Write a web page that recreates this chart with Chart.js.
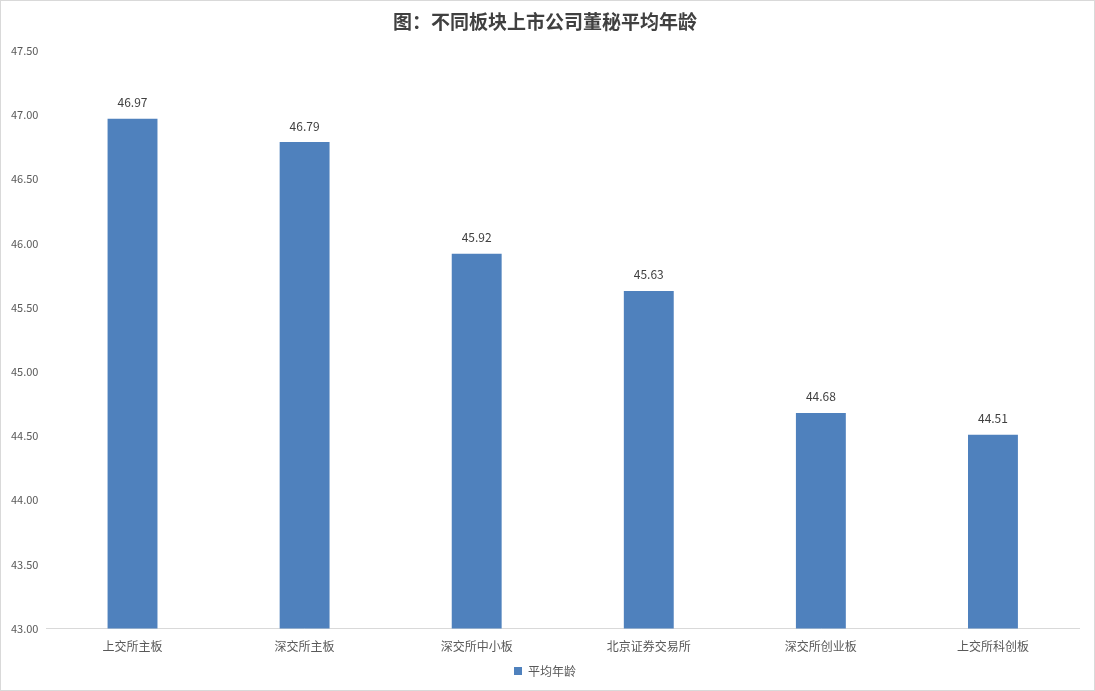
<!DOCTYPE html>
<html>
<head>
<meta charset="utf-8">
<script src="https://cdn.jsdelivr.net/npm/chart.js@4.4.1/dist/chart.umd.min.js"></script>
<style>
html,body{margin:0;padding:0;background:#fff;}
#wrap{position:absolute;left:0;top:0;width:1093px;height:689px;border:1px solid #d9d9d9;background:#fff;}
canvas{display:block;}
</style>
</head>
<body>
<div id="wrap"><canvas id="c" width="1093" height="689"></canvas></div>
<script>
const categories = ["上交所主板","深交所主板","深交所中小板","北京证券交易所","深交所创业板","上交所科创板"];
const avgAge = [46.97, 46.79, 45.92, 45.63, 44.68, 44.51];
const seriesName = "平均年龄";
const titleText = "图：不同板块上市公司董秘平均年龄";

const FONT = "'Noto Sans CJK SC','Noto Sans',sans-serif";

const valueLabels = {
  id: 'valueLabels',
  afterDatasetsDraw(chart) {
    const ctx = chart.ctx;
    ctx.save();
    ctx.font = "12px " + FONT;
    ctx.fillStyle = "#404040";
    ctx.textAlign = "center";
    ctx.textBaseline = "middle";
    chart.getDatasetMeta(0).data.forEach((bar, i) => {
      ctx.fillText(avgAge[i].toFixed(2), bar.x, bar.y - 16);
    });
    ctx.restore();
  }
};

new Chart(document.getElementById('c'), {
  type: 'bar',
  data: {
    labels: categories,
    datasets: [{
      label: seriesName,
      data: avgAge,
      backgroundColor: '#4F81BD',
      categoryPercentage: 1.0,
      barPercentage: 0.29
    }]
  },
  options: {
    responsive: false,
    animation: false,
    devicePixelRatio: 1,
    layout: { padding: { left: 10, right: 15, top: 5, bottom: 3 } },
    plugins: {
      title: {
        display: true,
        text: titleText,
        color: '#404040',
        font: { family: FONT, size: 19, weight: 'bold' },
        padding: { top: 4, bottom: 18 }
      },
      legend: {
        display: true,
        position: 'bottom',
        labels: {
          boxWidth: 8,
          boxHeight: 8,
          color: '#595959',
          font: { family: FONT, size: 12 },
          padding: 8
        }
      },
      tooltip: { enabled: false }
    },
    scales: {
      x: {
        grid: { display: false },
        border: { display: true, color: '#d9d9d9' },
        ticks: { color: '#595959', font: { family: FONT, size: 12 }, padding: 3 }
      },
      y: {
        min: 43,
        max: 47.5,
        grid: { display: false },
        border: { display: false },
        ticks: {
          stepSize: 0.5,
          color: '#595959',
          font: { family: FONT, size: 11 },
          padding: 0,
          callback: v => Number(v).toFixed(2)
        }
      }
    }
  },
  plugins: [valueLabels]
});
</script>
</body>
</html>
